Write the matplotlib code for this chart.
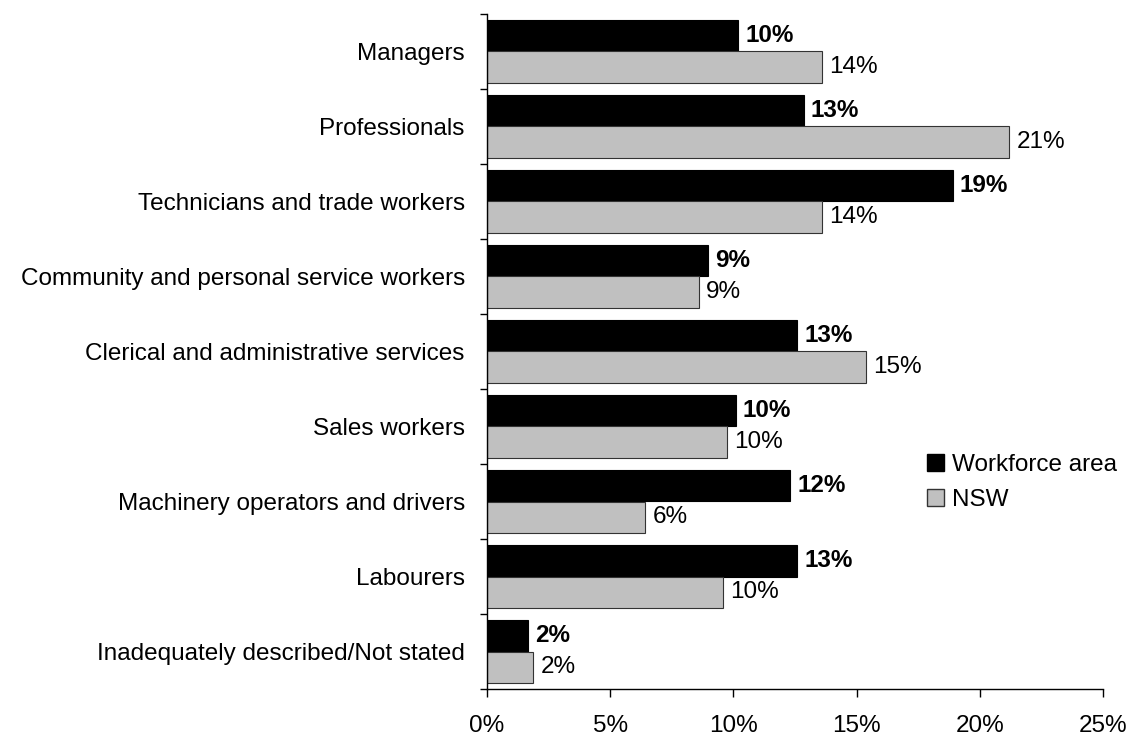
import matplotlib.pyplot as plt
from matplotlib.patches import Patch
from matplotlib.ticker import FixedLocator, PercentFormatter

plt.rcParams['font.family'] = ['Liberation Sans', 'DejaVu Sans']

categories = ['Managers', 'Professionals', 'Technicians and trade workers',
              'Community and personal service workers',
              'Clerical and administrative services', 'Sales workers',
              'Machinery operators and drivers', 'Labourers',
              'Inadequately described/Not stated']
workforce = [10.2, 12.85, 18.9, 8.96, 12.6, 10.1, 12.3, 12.6, 1.66]
nsw = [13.6, 21.2, 13.6, 8.6, 15.4, 9.74, 6.43, 9.57, 1.88]
x_ticks = [0, 5, 10, 15, 20, 25]

fs = 17.5

fig = plt.figure(figsize=(11.34, 7.36), dpi=100)
ax = fig.add_axes([487 / 1134, 1 - 689 / 736, (1103 - 487) / 1134, (689 - 14) / 736])

ypos = list(range(len(categories)))
h = 0.42
b1 = ax.barh([y - h / 2 for y in ypos], workforce, height=h, color='black',
             edgecolor='black', linewidth=0.8, label='Workforce area')
b2 = ax.barh([y + h / 2 for y in ypos], nsw, height=h, color='#c0c0c0',
             edgecolor='#333333', linewidth=0.8, label='NSW')

for rect, v in zip(b1, workforce):
    ax.annotate('%d%%' % round(v), (rect.get_width(), rect.get_y() + rect.get_height() / 2),
                xytext=(5, 0), textcoords='offset points', va='center', ha='left',
                fontsize=fs, fontweight='bold')
for rect, v in zip(b2, nsw):
    ax.annotate('%d%%' % round(v), (rect.get_width(), rect.get_y() + rect.get_height() / 2),
                xytext=(5, 0), textcoords='offset points', va='center', ha='left',
                fontsize=fs)

ax.set_xlim(0, 25)
ax.set_ylim(len(categories) - 0.5, -0.5)
ax.set_xticks(x_ticks)
ax.xaxis.set_major_formatter(PercentFormatter(decimals=0))
ax.set_yticks(ypos)
ax.set_yticklabels(categories)
ax.yaxis.set_minor_locator(FixedLocator([y - 0.5 for y in range(len(categories) + 1)]))
ax.tick_params(axis='y', which='major', length=0, pad=16, labelsize=fs)
ax.tick_params(axis='y', which='minor', length=5, direction='out', width=1)
ax.tick_params(axis='x', which='major', length=6, direction='out', width=1, pad=13, labelsize=fs)

for s in ['top', 'right']:
    ax.spines[s].set_visible(False)
ax.spines['left'].set_linewidth(1)
ax.spines['bottom'].set_linewidth(1)

handles = [Patch(facecolor='black', edgecolor='black'),
           Patch(facecolor='#c0c0c0', edgecolor='#333333')]
fig.legend(handles, ['Workforce area', 'NSW'], loc='upper left',
           bbox_to_anchor=(905 / 1134, 1 - 432 / 736), frameon=False, fontsize=fs,
           handlelength=0.7, handleheight=0.7, handletextpad=0.35, labelspacing=0.55)

fig.savefig('out.png', dpi=100)
